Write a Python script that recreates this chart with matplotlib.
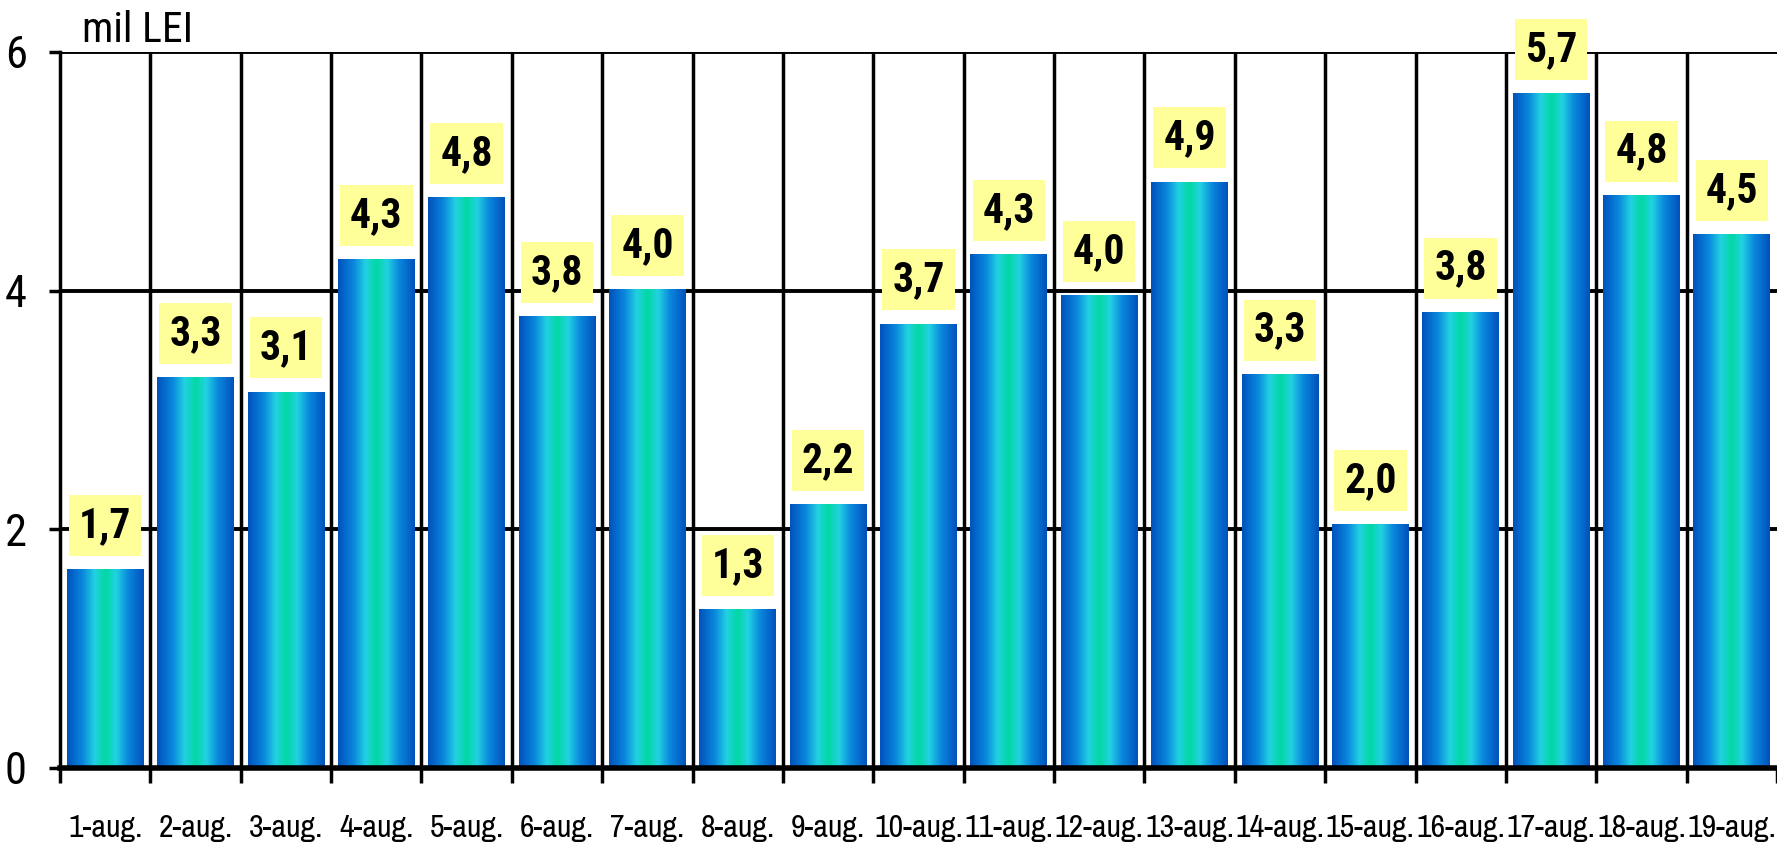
import matplotlib
matplotlib.use("Agg")
import matplotlib.pyplot as plt
import numpy as np
from matplotlib.colors import LinearSegmentedColormap

days = ["1-aug.", "2-aug.", "3-aug.", "4-aug.", "5-aug.", "6-aug.", "7-aug.",
        "8-aug.", "9-aug.", "10-aug.", "11-aug.", "12-aug.", "13-aug.", "14-aug.",
        "15-aug.", "16-aug.", "17-aug.", "18-aug.", "19-aug."]
values = [1.66, 3.27, 3.15, 4.26, 4.78, 3.78, 4.01, 1.33, 2.21, 3.72,
          4.30, 3.96, 4.91, 3.30, 2.04, 3.82, 5.65, 4.80, 4.47]
labels = ["1,7", "3,3", "3,1", "4,3", "4,8", "3,8", "4,0", "1,3", "2,2", "3,7",
          "4,3", "4,0", "4,9", "3,3", "2,0", "3,8", "5,7", "4,8", "4,5"]
yticks = [0, 2, 4, 6]

narrow = ["Roboto Condensed", "Archivo Narrow", "Liberation Sans", "DejaVu Sans"]
narrower = ["Archivo Narrow", "Roboto Condensed", "Liberation Sans", "DejaVu Sans"]
narrow_bold = ["Roboto Condensed", "Fira Sans Condensed", "Archivo Narrow", "DejaVu Sans"]

grad = LinearSegmentedColormap.from_list("barfill", [
    (0.00, "#0052bc"), (0.20, "#0a86dc"), (0.36, "#22d2e2"),
    (0.50, "#02d8a2"), (0.64, "#22d2e2"), (0.80, "#0a86dc"), (1.00, "#0052bc")])
strip = np.linspace(0, 1, 200).reshape(1, -1)

fig = plt.figure(figsize=(17.77, 8.48), dpi=100)
ax = fig.add_axes([60 / 1777, 1 - 768 / 848, 1 - 60 / 1777, (768 - 52) / 848])

x = np.arange(len(days))
bars = ax.bar(x, values, width=0.85, color="none", edgecolor="none", zorder=3)
for b in bars:
    x0, w, h = b.get_x(), b.get_width(), b.get_height()
    ax.imshow(strip, cmap=grad, aspect="auto", extent=[x0, x0 + w, 0, h],
              zorder=3, interpolation="bicubic")

for xi, v, lab in zip(x, values, labels):
    ax.annotate(lab, (xi, v), xytext=(0, 17), textcoords="offset points",
                ha="center", va="bottom", fontsize=30, fontweight="bold",
                family=narrow_bold, zorder=5,
                bbox=dict(boxstyle="square,pad=0.24", fc="#ffff99", ec="none"))

ax.set_xlim(-0.5, len(days) - 0.5)
ax.set_ylim(0, 6)
ax.set_yticks(yticks)
ax.set_yticklabels([str(t) for t in yticks], family=narrow, fontsize=32)
ax.set_xticks(x)
ax.set_xticklabels(days, family=narrower, fontsize=23)
ax.tick_params(axis="x", length=0, pad=33)
ax.set_xticks(np.arange(-0.5, len(days), 1), minor=True)
ax.tick_params(axis="x", which="minor", length=11, width=2.5, direction="out")
ax.tick_params(axis="y", length=8, width=2.5, pad=16)

for yv in yticks[1:]:
    ax.axhline(yv, color="black", lw=2.8, zorder=1)
for xv in np.arange(0.5, len(days) - 0.5, 1):
    ax.axvline(xv, color="black", lw=2.5, zorder=1)

for side in ["top", "right"]:
    ax.spines[side].set_visible(False)
ax.spines["left"].set_linewidth(2.5)
ax.spines["bottom"].set_linewidth(4)
ax.spines["bottom"].set_zorder(4)

fig.text(82 / 1777, 1 - 42 / 848, "mil LEI", family=narrow, fontsize=30,
         va="baseline", ha="left")

fig.savefig("out.png", dpi=100)
